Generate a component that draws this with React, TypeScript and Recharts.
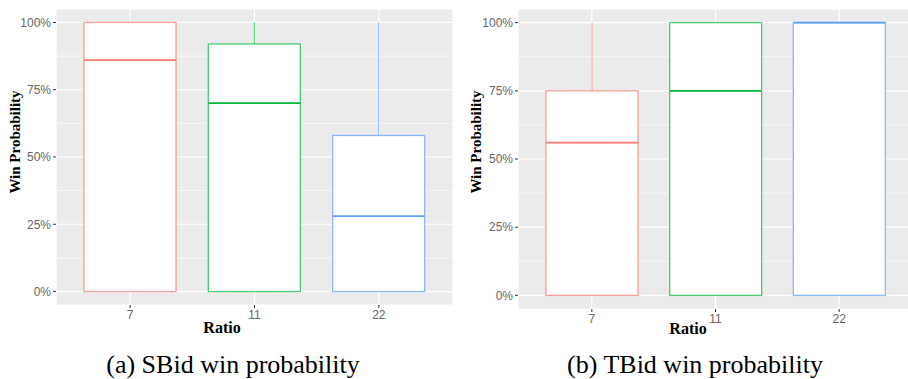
import React from 'react';
import { ComposedChart, Bar, XAxis, YAxis, CartesianGrid } from 'recharts';

// categories + box stats
const ratios = ['7', '11', '22'];
const sbidMin = [0, 0, 0];
const sbidQ1 = [0, 0, 0];
const sbidMedian = [0.86, 0.7, 0.28];
const sbidQ3 = [1, 0.92, 0.58];
const sbidMax = [1, 1, 1];

const tbidMin = [0, 0, 0];
const tbidQ1 = [0, 0, 0];
const tbidMedian = [0.56, 0.75, 1];
const tbidQ3 = [0.75, 1, 1];
const tbidMax = [1, 1, 1];

const majorTicks = [0, 0.25, 0.5, 0.75, 1];
const minorTicks = [0.125, 0.375, 0.625, 0.875];

// ggplot default hues
const COLORS = ['#F8766D', '#00BA38', '#619CFF'];

const buildRows = (mins: number[], q1s: number[], meds: number[], q3s: number[], maxs: number[]) =>
  ratios.map((ratio, i) => ({
    ratio,
    range: [mins[i], maxs[i]],
    min: mins[i],
    q1: q1s[i],
    median: meds[i],
    q3: q3s[i],
    max: maxs[i],
  }));

const sbidData = buildRows(sbidMin, sbidQ1, sbidMedian, sbidQ3, sbidMax);
const tbidData = buildRows(tbidMin, tbidQ1, tbidMedian, tbidQ3, tbidMax);

// the bar covers [min, max]; everything else is placed along that span (linear scale)
const BoxShape = (props: any) => {
  const { x, y, width, height, payload, index } = props;
  const { min, max, q1, median, q3 } = payload;
  const toPx = (v: number) => y + height - ((v - min) / (max - min)) * height;
  const color = COLORS[index % COLORS.length];
  const cx = x + width / 2;
  return (
    <g>
      {max > q3 && <line x1={cx} x2={cx} y1={toPx(max)} y2={toPx(q3)} stroke={color} strokeOpacity={0.7} strokeWidth={1} />}
      {q1 > min && <line x1={cx} x2={cx} y1={toPx(q1)} y2={toPx(min)} stroke={color} strokeOpacity={0.7} strokeWidth={1} />}
      <rect
        x={x}
        y={toPx(q3)}
        width={width}
        height={toPx(q1) - toPx(q3)}
        fill="#ffffff"
        stroke={color}
        strokeOpacity={0.7}
        strokeWidth={1.3}
      />
      <line x1={x} x2={x + width} y1={toPx(median)} y2={toPx(median)} stroke={color} strokeWidth={1.8} />
    </g>
  );
};

const tickStyle = { fill: '#666666', fontSize: 12, fontFamily: 'Liberation Sans, Arial, sans-serif' };
const axisTitle: React.CSSProperties = {
  position: 'absolute',
  fontFamily: '"Liberation Serif", "Times New Roman", serif',
  fontWeight: 'bold',
  color: '#000',
  whiteSpace: 'nowrap',
  transform: 'translate(-50%, -50%)',
};
const captionStyle: React.CSSProperties = {
  position: 'absolute',
  fontFamily: '"Liberation Serif", "Times New Roman", serif',
  fontSize: 26,
  color: '#000',
  whiteSpace: 'nowrap',
  transform: 'translate(-50%, -50%)',
};

interface PanelProps {
  data: any[];
  width: number;
  height: number;
  yAxisWidth: number;
  xAxisHeight: number;
}

const BoxPanel: React.FC<PanelProps> = ({ data, width, height, yAxisWidth, xAxisHeight }) => (
  <ComposedChart width={width} height={height} data={data} margin={{ top: 9, right: 1, left: 0, bottom: 0 }}>
    <CartesianGrid fill="#EBEBEB" stroke="#ffffff" strokeWidth={1.2} />
    <CartesianGrid horizontalValues={minorTicks} vertical={false} stroke="#ffffff" strokeWidth={0.6} />
    <XAxis
      dataKey="ratio"
      type="category"
      padding={{ left: 12, right: 12 }}
      axisLine={false}
      tickLine={{ stroke: '#333333' }}
      tickSize={3}
      tick={tickStyle}
      height={xAxisHeight}
    />
    <YAxis
      type="number"
      domain={[-0.05, 1.05]}
      ticks={majorTicks}
      allowDataOverflow
      tickFormatter={(v: number) => `${Math.round(v * 100)}%`}
      axisLine={false}
      tickLine={{ stroke: '#333333' }}
      tickSize={3}
      tick={tickStyle}
      width={yAxisWidth}
    />
    <Bar dataKey="range" barSize={92} shape={<BoxShape />} isAnimationActive={false} />
  </ComposedChart>
);

export default function App() {
  return (
    <div style={{ position: 'absolute', left: 0, top: 0, width: 908, height: 379, overflow: 'hidden', background: '#fff' }}>
      <div style={{ position: 'absolute', left: 0, top: 0 }}>
        <BoxPanel data={sbidData} width={454} height={340} yAxisWidth={56} xAxisHeight={35} />
      </div>
      <div style={{ position: 'absolute', left: 454, top: 0 }}>
        <BoxPanel data={tbidData} width={460} height={340} yAxisWidth={64} xAxisHeight={31} />
      </div>

      <div style={{ ...axisTitle, left: 15, top: 142, fontSize: 15, transform: 'translate(-50%, -50%) rotate(-90deg)' }}>
        Win Probability
      </div>
      <div style={{ ...axisTitle, left: 476, top: 142, fontSize: 15, transform: 'translate(-50%, -50%) rotate(-90deg)' }}>
        Win Probability
      </div>
      <div style={{ ...axisTitle, left: 222, top: 328, fontSize: 16 }}>Ratio</div>
      <div style={{ ...axisTitle, left: 688, top: 329, fontSize: 16 }}>Ratio</div>

      <div style={{ ...captionStyle, left: 233, top: 365 }}>(a) SBid win probability</div>
      <div style={{ ...captionStyle, left: 695, top: 365 }}>(b) TBid win probability</div>
    </div>
  );
}
